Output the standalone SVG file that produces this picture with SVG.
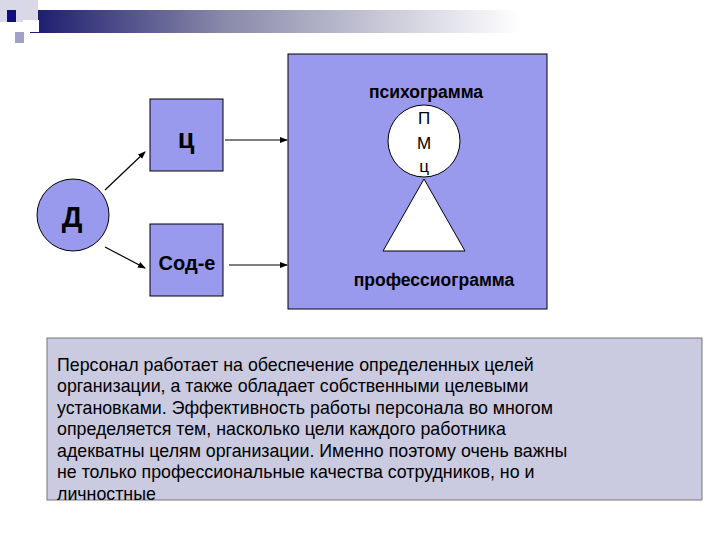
<svg xmlns="http://www.w3.org/2000/svg" width="720" height="540" viewBox="0 0 720 540">
<defs>
<linearGradient id="g" x1="0" x2="1" y1="0" y2="0"><stop offset="0" stop-color="#1a1a6e"/><stop offset="0.4" stop-color="#8a8aaa"/><stop offset="1" stop-color="#ffffff"/></linearGradient>
<marker id="a" markerWidth="8" markerHeight="8" refX="7" refY="4" orient="auto" markerUnits="userSpaceOnUse"><path d="M0,1 L8,4 L0,7 z" fill="#000"/></marker>
<style>.n{fill:#9999ee;stroke:#000;stroke-width:1}.t{font-family:"Liberation Sans",Arial,sans-serif;fill:#000}.b{font-weight:bold}.c line{stroke:#000;stroke-width:1.2;marker-end:url(#a)}</style>
</defs>
<g id="header">
<rect x="30" y="10" width="490" height="23" fill="url(#g)"/>
<rect x="0" y="0" width="38" height="22" fill="#d8d8e6"/>
<rect x="7" y="10" width="9" height="12" fill="#10107a"/>
<rect x="23" y="20" width="16" height="12" fill="#ffffff"/>
<rect x="15" y="32" width="9" height="11" fill="#a0a0c8"/>
</g>
<g id="big"><rect x="288" y="54" width="259" height="255" class="n"/>
<text x="426" y="98" class="t b" font-size="17.5" text-anchor="middle">психограмма</text>
<text x="434" y="286" class="t b" font-size="17.5" text-anchor="middle">профессиограмма</text></g>
<g id="pmc"><circle cx="424" cy="141" r="36" fill="#fff" stroke="#000"/>
<text class="t" font-size="17" text-anchor="middle"><tspan x="424" y="124">П</tspan><tspan x="424" y="149">М</tspan><tspan x="424" y="172">ц</tspan></text></g>
<g id="tri"><polygon points="424,179 465,251 383,251" fill="#fff" stroke="#000"/></g>
<g id="c"><rect x="150" y="99" width="73" height="72" class="n"/><text x="186" y="148" class="t b" font-size="27" text-anchor="middle">ц</text></g>
<g id="s"><rect x="150" y="224" width="73" height="72" class="n"/><text x="187" y="270" class="t b" font-size="20" text-anchor="middle">Сод-е</text></g>
<g id="d"><circle cx="73" cy="215" r="36" class="n"/><text x="72" y="227" class="t b" font-size="29" text-anchor="middle">Д</text></g>
<g class="c" id="connectors">
<line x1="105" y1="190" x2="145" y2="152"/>
<line x1="105" y1="247" x2="145" y2="268"/>
<line x1="225" y1="140" x2="287" y2="140"/>
<line x1="229" y1="265" x2="287" y2="265"/>
</g>
<g id="note"><rect x="47" y="338" width="655" height="162" fill="#cacae0" stroke="#777"/>
<text class="t" font-size="17.8"><tspan x="57" y="371">Персонал работает на обеспечение определенных целей</tspan><tspan x="57" y="392">организации, а также обладает собственными целевыми</tspan><tspan x="57" y="414">установками. Эффективность работы персонала во многом</tspan><tspan x="57" y="435">определяется тем, насколько цели каждого работника</tspan><tspan x="57" y="457">адекватны целям организации. Именно поэтому очень важны</tspan><tspan x="57" y="478">не только профессиональные качества сотрудников, но и</tspan><tspan x="57" y="500">личностные</tspan></text></g>
</svg>
